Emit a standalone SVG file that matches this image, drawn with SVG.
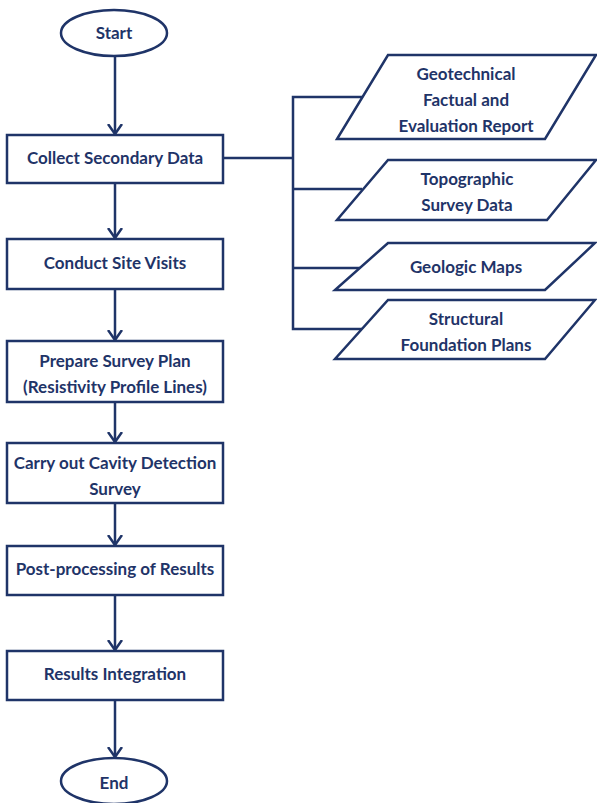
<svg xmlns="http://www.w3.org/2000/svg" width="597" height="803" viewBox="0 0 597 803">
<style>
.s{fill:#fff;stroke:#1f3468;stroke-width:2.5}
.t{font-family:Lato,"Liberation Sans",sans-serif;font-weight:bold;font-size:17px;fill:#1f3468;text-anchor:middle}
.c{fill:none;stroke:#1f3468;stroke-width:2.5}
</style>
<defs>
<marker id="a" markerUnits="userSpaceOnUse" markerWidth="14" markerHeight="16" refX="10" refY="7" orient="auto" viewBox="0 0 14 14">
<path d="M0,0 L10,7 L0,14" fill="none" stroke="#1f3468" stroke-width="2.5"/>
</marker>
</defs>
<rect width="597" height="803" fill="#fff"/>
<g id="connectors">
<path class="c" d="M115,56 V134" marker-end="url(#a)"/>
<path class="c" d="M115,183 V238" marker-end="url(#a)"/>
<path class="c" d="M115,289 V340" marker-end="url(#a)"/>
<path class="c" d="M115,402 V442" marker-end="url(#a)"/>
<path class="c" d="M115,503 V545" marker-end="url(#a)"/>
<path class="c" d="M115,595 V650" marker-end="url(#a)"/>
<path class="c" d="M115,700 V757" marker-end="url(#a)"/>
<path class="c" d="M223,158 H293"/>
<path class="c" d="M362,97 H293 V329 H362"/>
<path class="c" d="M293,189 H362"/>
<path class="c" d="M293,268 H362"/>
</g>
<g id="start">
<ellipse class="s" cx="114" cy="33" rx="53" ry="23"/>
<text class="t" x="114" y="39">Start</text>
</g>
<g id="collect">
<rect class="s" x="7" y="135" width="216" height="48"/>
<text class="t" x="115" y="164">Collect Secondary Data</text>
</g>
<g id="conduct">
<rect class="s" x="7" y="239" width="216" height="50"/>
<text class="t" x="115" y="269">Conduct Site Visits</text>
</g>
<g id="prepare">
<rect class="s" x="7" y="341" width="216" height="61"/>
<text class="t" x="115" y="367">Prepare Survey Plan</text>
<text class="t" x="115" y="393">(Resistivity Profile Lines)</text>
</g>
<g id="carry">
<rect class="s" x="7" y="443" width="216" height="60"/>
<text class="t" x="115" y="469">Carry out Cavity Detection</text>
<text class="t" x="115" y="495">Survey</text>
</g>
<g id="post">
<rect class="s" x="7" y="546" width="216" height="49"/>
<text class="t" x="115" y="575">Post-processing of Results</text>
</g>
<g id="results">
<rect class="s" x="7" y="651" width="216" height="49"/>
<text class="t" x="115" y="680">Results Integration</text>
</g>
<g id="end">
<ellipse class="s" cx="114" cy="781" rx="53" ry="23"/>
<text class="t" x="114" y="789">End</text>
</g>
<g id="geotech">
<polygon class="s" points="388,55 596,55 545,139 337,139"/>
<text class="t" x="466" y="80">Geotechnical</text>
<text class="t" x="466" y="106">Factual and</text>
<text class="t" x="466" y="132">Evaluation Report</text>
</g>
<g id="topo">
<polygon class="s" points="388,160 596,160 547,220 337,220"/>
<text class="t" x="467" y="185">Topographic</text>
<text class="t" x="467" y="211">Survey Data</text>
</g>
<g id="geologic">
<polygon class="s" points="388,243 595,243 545,290 335,290"/>
<text class="t" x="466" y="273">Geologic Maps</text>
</g>
<g id="structural">
<polygon class="s" points="388,300 595,300 545,359 335,359"/>
<text class="t" x="466" y="325">Structural</text>
<text class="t" x="466" y="351">Foundation Plans</text>
</g>
</svg>
